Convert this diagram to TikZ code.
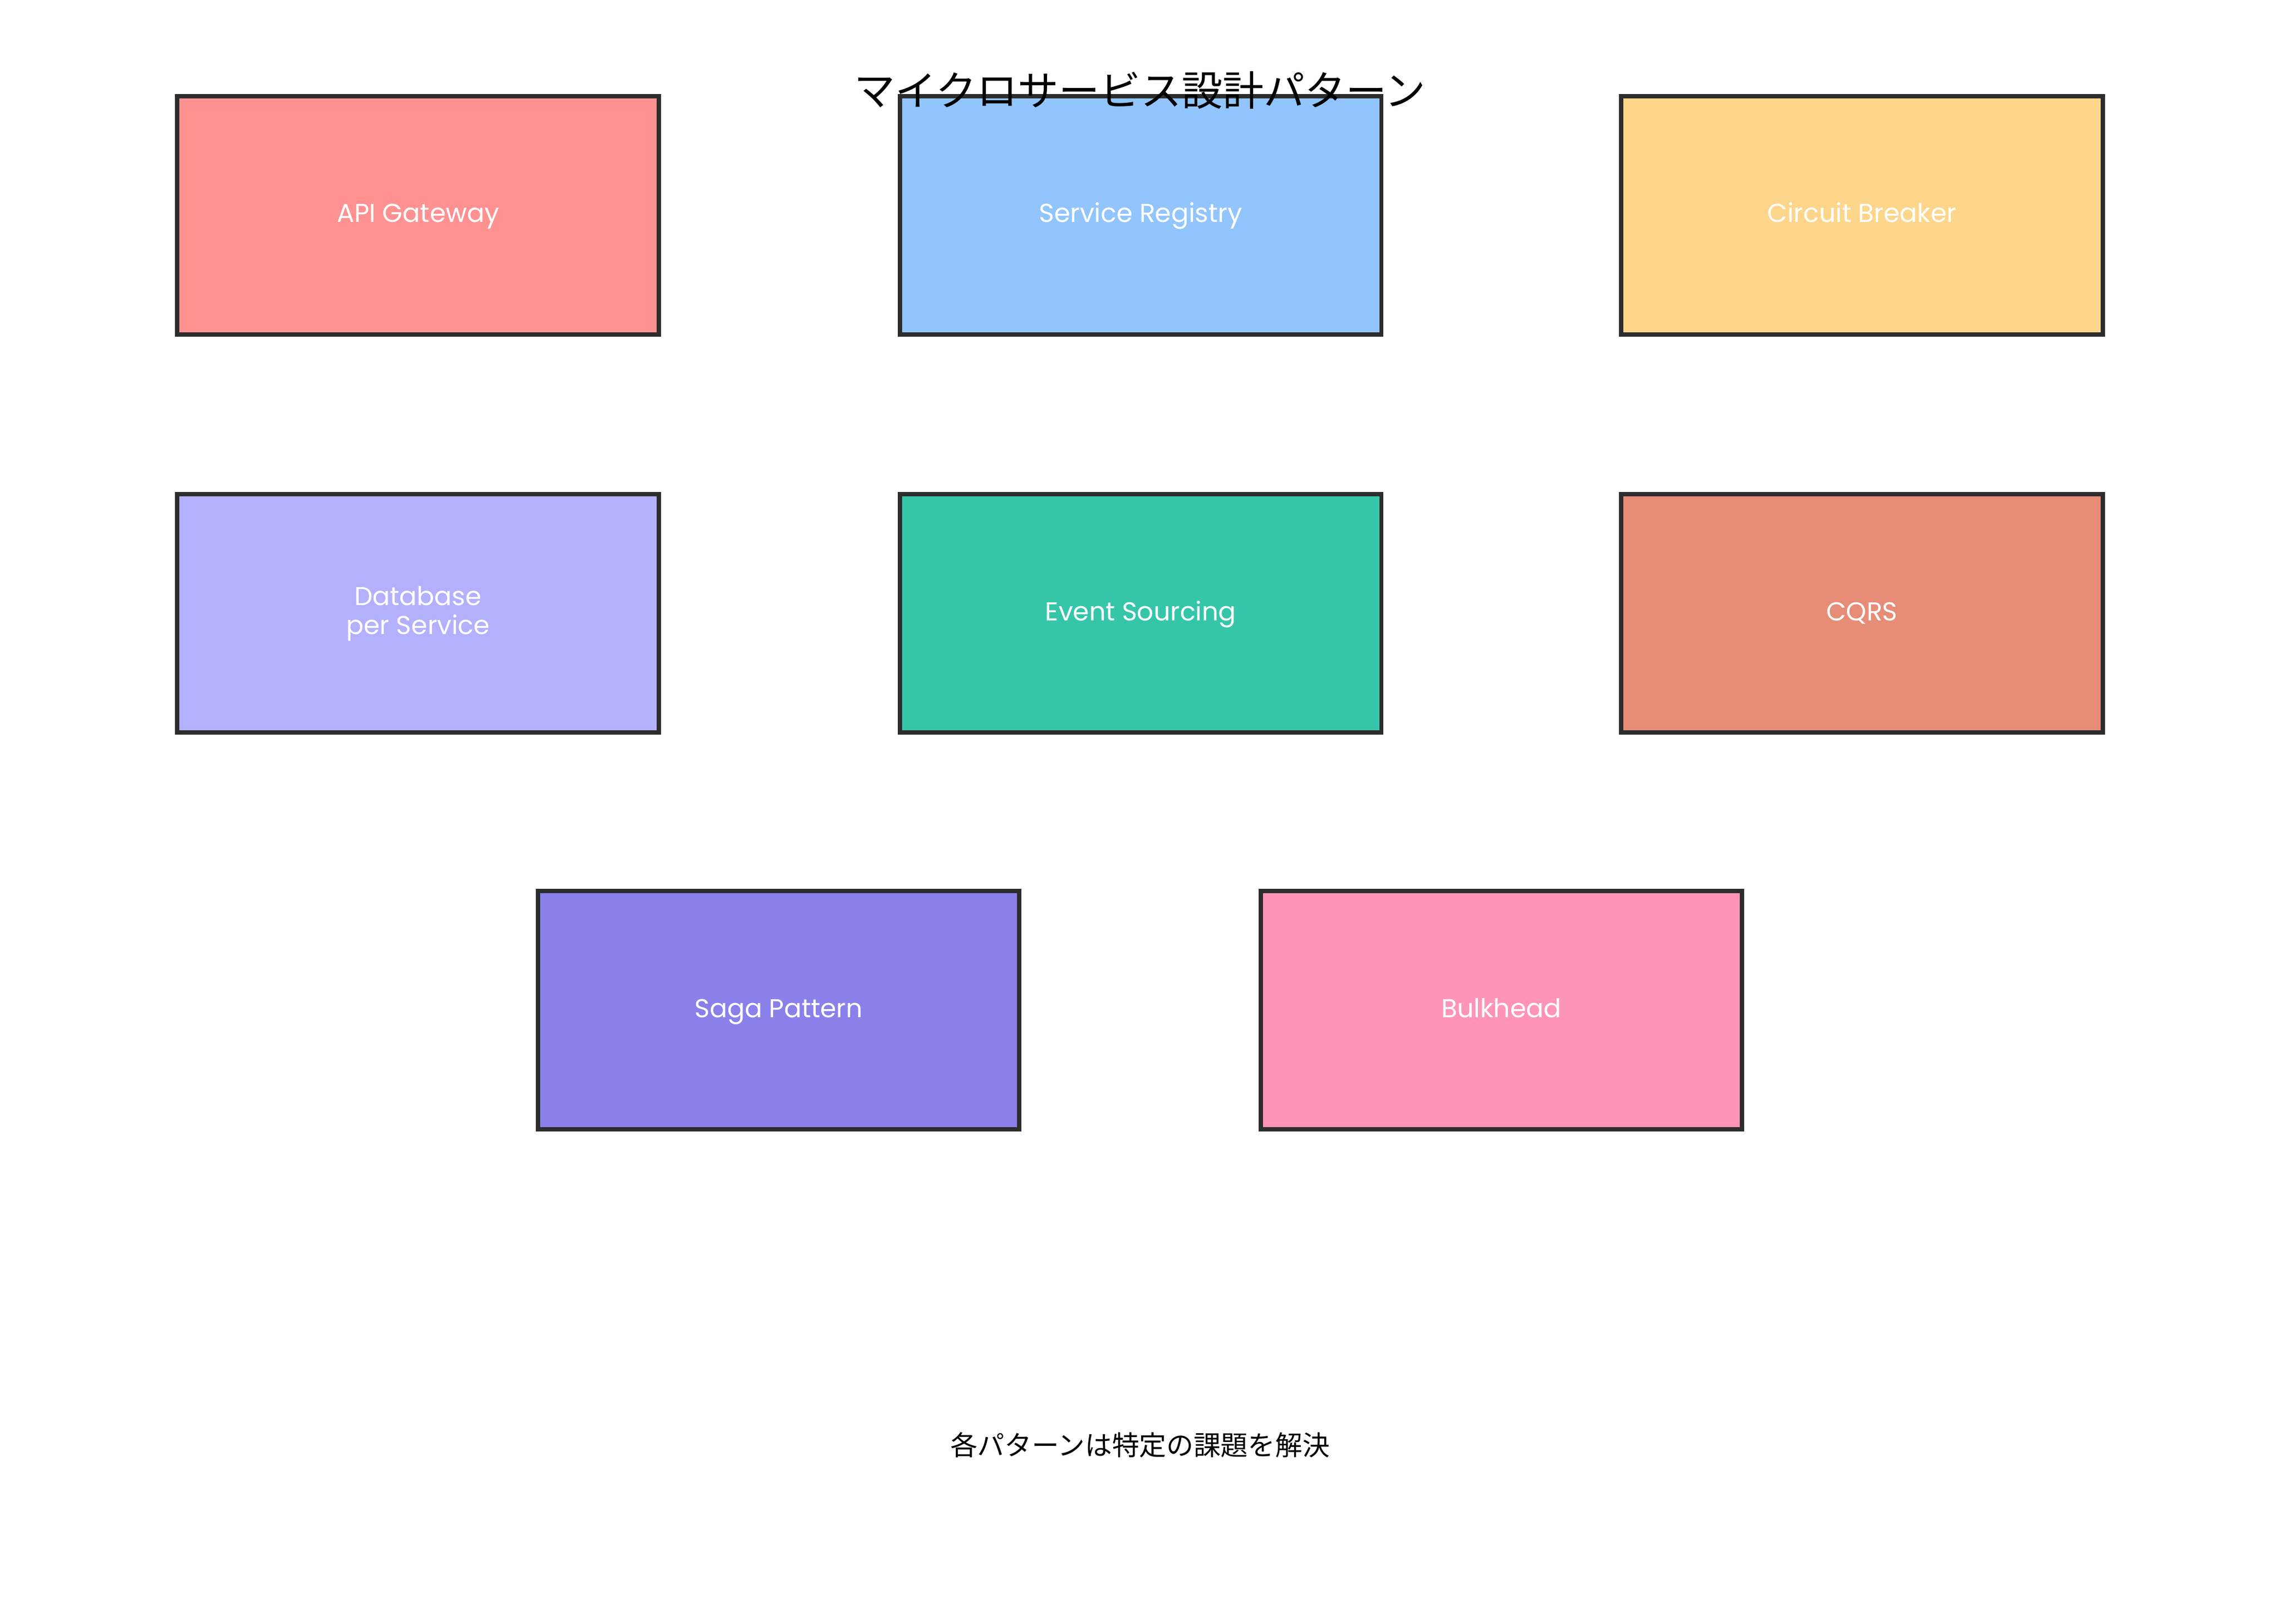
\documentclass[tikz,border=0pt]{standalone}
\usepackage{fontspec}
\setmainfont{Poppins}
\newfontfamily\jpfont{Noto Sans CJK JP}
\usetikzlibrary{positioning}

\definecolor{gatewayred}{HTML}{FF9191}
\definecolor{registryblue}{HTML}{92C5FD}
\definecolor{breakeryellow}{HTML}{FDD68B}
\definecolor{dblilac}{HTML}{B3B0FD}
\definecolor{eventgreen}{HTML}{35C6AA}
\definecolor{cqrsorange}{HTML}{E78C77}
\definecolor{sagapurple}{HTML}{8A80EA}
\definecolor{bulkpink}{HTML}{FF94B8}
\definecolor{edgegray}{HTML}{2D2D2D}

\tikzset{
  pattern box/.style={draw=edgegray, line width=3pt, fill=#1,
    minimum width=331pt, minimum height=164pt, inner sep=0pt, outer sep=0pt,
    text=white, font=\fontsize{17.8}{20}\selectfont, align=center,
    text height=14pt, text depth=4pt},
  two lines/.style={text height=, text depth=}
}

\begin{document}
\begin{tikzpicture}[x=1pt, y=-1pt]
\useasboundingbox (0,0) rectangle (1568,1116.8);

\coordinate (GW) at (287.5,148);
\coordinate (SR) at (784.5,148);
\coordinate (CB) at (1280.5,148);
\coordinate (DB) at (287.5,422);
\coordinate (ES) at (784.5,422);
\coordinate (CQ) at (1280.5,422);
\coordinate (SG) at (535.5,695);
\coordinate (BH) at (1032.5,695);

\node [pattern box=gatewayred] (gateway) at (GW) {API Gateway};
\node [pattern box=registryblue] (registry) at (SR) {Service Registry};
\node [pattern box=breakeryellow] (breaker) at (CB) {Circuit Breaker};
\node [pattern box=dblilac, two lines] (database) at (DB) {Database\\per Service};
\node [pattern box=eventgreen] (events) at (ES) {Event Sourcing};
\node [pattern box=cqrsorange] (cqrs) at (CQ) {CQRS};
\node [pattern box=sagapurple] (saga) at (SG) {Saga Pattern};
\node [pattern box=bulkpink] (bulkhead) at (BH) {Bulkhead};

\node [font=\jpfont\fontsize{28.2}{30}\selectfont] (title) at (784,62) {マイクロサービス設計パターン};
\node [font=\jpfont\fontsize{18.7}{20}\selectfont] (note) at (784,994) {各パターンは特定の課題を解決};

\end{tikzpicture}
\end{document}
